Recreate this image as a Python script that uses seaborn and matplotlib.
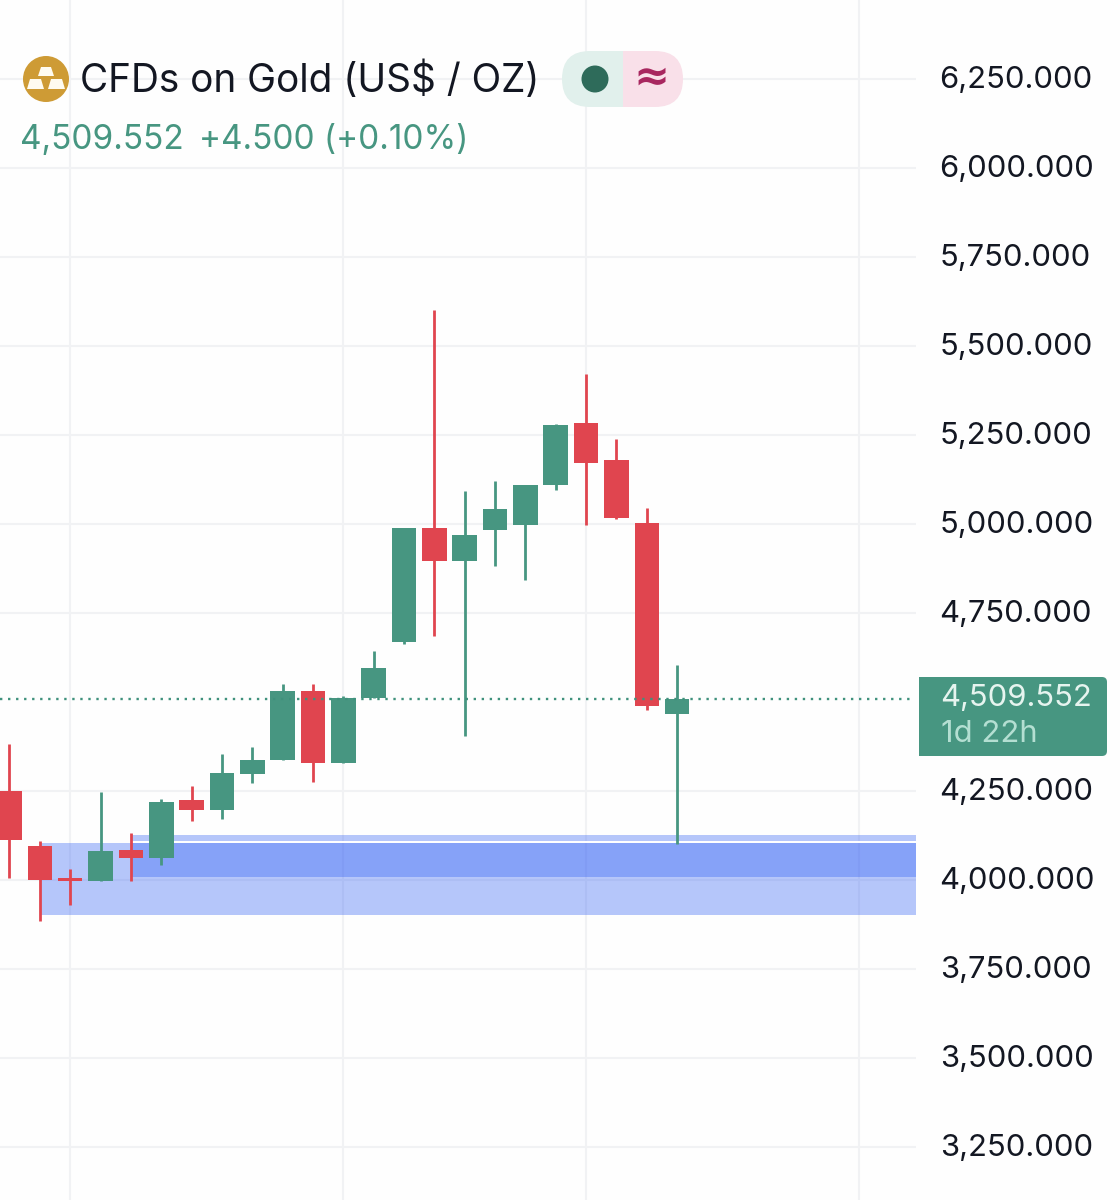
import pandas as pd
import matplotlib
matplotlib.use("Agg")
import matplotlib.pyplot as plt
from matplotlib.patches import Ellipse, FancyBboxPatch, Polygon, Rectangle
from matplotlib.transforms import ScaledTranslation
import seaborn as sns

# weekly candles
opens = [4251, 4096, 4005, 3998, 4085, 4063, 4224, 4197, 4299, 4338, 4532, 4330,
         4510, 4669, 4990, 4895, 4984, 4996, 5109, 5283, 5180, 5004, 4466]
highs = [4383, 4110, 4031, 4246, 4133, 4228, 4265, 4355, 4374, 4551, 4551, 4517,
         4644, 4990, 5600, 5093, 5121, 5109, 5281, 5422, 5240, 5045, 4604]
lows = [4006, 3886, 3930, 3998, 3998, 4043, 4166, 4170, 4273, 4338, 4276, 4330,
        4510, 4662, 4685, 4405, 4881, 4843, 5096, 4998, 5013, 4478, 4102]
closes = [4111, 4000, 3998, 4081, 4062, 4220, 4197, 4300, 4338, 4532, 4330, 4510,
          4596, 4990, 4895, 4968, 5042, 5109, 5278, 5172, 5018, 4490, 4509.552]

price_ticks = [6250, 6000, 5750, 5500, 5250, 5000, 4750, 4250, 4000, 3750, 3500, 3250]
time_ticks = [2, 11, 19, 28]
last_price = 4509.552

# demand zones (start candle, low, high)
zone_wide = (1.05, 3903, 4103)
zone_short = (4.05, 4008, 4126)
zone_gap = (4.05, 4103, 4110)

GREEN = "#479681"
RED = "#E0454F"
GRID = "#F1F2F4"
BLUE = "#2F5FF5"
PAPER = "#FEFEFE"

df = pd.DataFrame({"o": opens, "h": highs, "l": lows, "c": closes})
df["idx"] = df.index
df["side"] = ["up" if c >= o else "down" for o, c in zip(df["o"], df["c"])]
wicks = df.melt(id_vars=["idx", "side"], value_vars=["h", "l"], value_name="price")

sns.set_theme(style="white")
plt.rcParams["font.family"] = ["Inter", "DejaVu Sans"]

fig = plt.figure(figsize=(11.2, 12), dpi=100, facecolor=PAPER)
ax = fig.add_axes([0, 0, 916 / 1120, 1], facecolor=PAPER)

ax.set_axisbelow(True)
ax.grid(True, color=GRID, lw=1.5)

x_end = 29.87
ax.add_patch(Rectangle((zone_wide[0], zone_wide[1]), x_end - zone_wide[0], zone_wide[2] - zone_wide[1],
                       color=BLUE, alpha=0.35, lw=0, zorder=1))
ax.add_patch(Rectangle((zone_short[0], zone_short[1]), x_end - zone_short[0], zone_short[2] - zone_short[1],
                       color=BLUE, alpha=0.35, lw=0, zorder=1))
ax.add_patch(Rectangle((zone_gap[0], zone_gap[1]), x_end - zone_gap[0], zone_gap[2] - zone_gap[1],
                       color="white", lw=0, zorder=1.5))

sns.lineplot(data=wicks, x="idx", y="price", units="idx", estimator=None, hue="side",
             palette={"up": GREEN, "down": RED}, lw=2.0, legend=False, ax=ax, zorder=3,
             solid_capstyle="butt")
body_colors = [GREEN if s == "up" else RED for s in df["side"]]
ax.bar(df["idx"], (df["c"] - df["o"]).abs(), bottom=df[["o", "c"]].min(axis=1),
       width=0.81, color=body_colors, lw=0, zorder=4)

ax.plot([-0.313, 29.75], [last_price, last_price], color="#3F917C", lw=1.7, ls=(0, (1, 2.4)), zorder=5)

ax.set_xlim(-0.313, x_end)
ax.set_ylim(3101, 6472)
ax.set_xticks(time_ticks)
ax.set_yticks(price_ticks)
ax.set_xticklabels([])
ax.set_yticklabels([f"{p:,.3f}" for p in price_ticks])
ax.yaxis.tick_right()
ax.tick_params(axis="both", length=0)
ax.tick_params(axis="y", pad=17, labelsize=22.3, labelcolor="#131722")
# labels sit a touch above their grid lines
for lab in ax.get_yticklabels():
    lab.set_transform(lab.get_transform() + ScaledTranslation(0, 0.02, fig.dpi_scale_trans))
ax.set_xlabel("")
ax.set_ylabel("")
for s in ax.spines.values():
    s.set_visible(False)

# header and price tag, in pixel coordinates
top = fig.add_axes([0, 0, 1, 1], facecolor="none")
top.set_xlim(0, 1120)
top.set_ylim(1200, 0)
top.axis("off")

top.add_patch(Ellipse((46, 79), 46, 46, color="#CE9B35", lw=0))
for pts in ([(41, 67), (51, 67), (54, 76), (38, 76)],
            [(30, 79), (41, 79), (44, 89), (27, 89)],
            [(51, 79), (62, 79), (65, 89), (48, 89)]):
    top.add_patch(Polygon(pts, color="#FFFBF0", lw=0))

top.text(80, 81, "CFDs on Gold (US$ / OZ)", fontsize=27.9, color="#131722", va="center", ha="left")
top.text(20, 140, "4,509.552", fontsize=24, color=GREEN, va="center", ha="left")
top.text(199, 140, "+4.500 (+0.10%)", fontsize=24, color=GREEN, va="center", ha="left")

pill = FancyBboxPatch((562, 51), 121, 56, boxstyle="round,pad=0,rounding_size=28", fc="none", ec="none")
top.add_patch(pill)
top.add_patch(Rectangle((562, 51), 61, 56, color="#E1F0EC", lw=0, clip_path=pill))
top.add_patch(Rectangle((623, 51), 60, 56, color="#F9E0E9", lw=0, clip_path=pill))
top.add_patch(Ellipse((595, 79), 27, 27, color="#2E6B5A", lw=0))
top.text(651, 78, "≈", fontsize=31, color="#A8275F", va="center", ha="center",
         family=["DejaVu Sans"], fontweight="bold")

top.add_patch(FancyBboxPatch((919, 677), 188, 79, boxstyle="round,pad=0,rounding_size=5",
                             fc=GREEN, ec="none"))
top.add_patch(Rectangle((919, 677), 10, 79, color=GREEN, lw=0))
top.text(940, 698, "4,509.552", fontsize=22.3, color="#E6F4EF", va="center", ha="left")
top.text(941, 734, "1d 22h", fontsize=22.3, color="#B4DFD2", va="center", ha="left")

fig.savefig("out.png", dpi=100, facecolor=fig.get_facecolor())
